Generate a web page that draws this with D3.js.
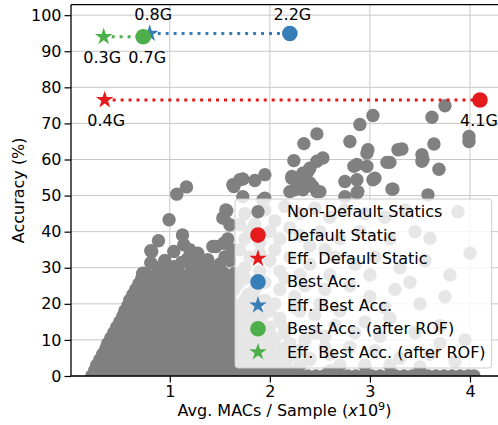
<!DOCTYPE html>
<html><head><meta charset="utf-8">
<script src="https://cdn.jsdelivr.net/npm/d3@7"></script>
<style>body{margin:0;background:#fff}svg{display:block;font-family:"DejaVu Sans",sans-serif}</style>
</head><body><svg id="c" width="498" height="425"></svg>
<script>
// ---------- data ----------
const xTicks = [1, 2, 3, 4];
const yTicks = [0, 10, 20, 30, 40, 50, 60, 70, 80, 90, 100];
// Non-default statics: [MACs (x1e9), accuracy %]
const bottomBand = [
 [0.22,0],[0.3,0],[0.38,0],[0.46,0],[0.54,0],[0.62,0],[0.7,0],[0.78,0],[0.86,0],[0.94,0],[1.02,0],[1.1,0],[1.18,0],[1.26,0],[1.34,0],[1.42,0],[1.5,0],[1.58,0],[1.66,0],[1.74,0],[1.82,0],[1.9,0],[1.98,0],[2.06,0],[2.14,0],[2.22,0],[2.3,0],[2.38,0],[2.46,0],[2.54,0],[2.62,0],[2.7,0],[2.78,0],[2.86,0],[2.94,0],[3.02,0],[3.1,0],[3.18,0],[3.26,0],[3.34,0],[3.42,0],[3.5,0],[3.58,0],[3.66,0],[3.74,0],[3.82,0],[3.9,0],[3.98,0],[4.04,0]
];
const denseBlob = [
 [0.25,1.5],[0.33,1.5],[0.42,1.5],[0.53,1.5],[0.64,1.5],[0.75,1.5],[0.86,1.5],[0.97,1.5],[1.08,1.5],[1.19,1.5],[1.3,1.5],[1.41,1.5],[1.52,1.5],[1.63,1.5],[1.74,1.5],[1.87,1.5],[2.02,1.5],[2.2,1.5],
 [0.27,3],[0.37,3],[0.48,3],[0.58,3],[0.69,3],[0.8,3],[0.91,3],[1.02,3],[1.13,3],[1.24,3],[1.35,3],[1.46,3],[1.57,3],[1.68,3],[1.8,3],[1.95,3],[2.1,3],[2.3,3],
 [0.3,4.5],[0.4,4.5],[0.51,4.5],[0.62,4.5],[0.73,4.5],[0.84,4.5],[0.95,4.5],[1.06,4.5],[1.17,4.5],[1.28,4.5],[1.39,4.5],[1.5,4.5],[1.61,4.5],[1.72,4.5],[1.85,4.5],[2.0,4.5],[2.17,4.5],[2.4,4.5],
 [0.33,6],[0.43,6],[0.53,6],[0.64,6],[0.75,6],[0.86,6],[0.97,6],[1.08,6],[1.19,6],[1.3,6],[1.41,6],[1.52,6],[1.63,6],[1.75,6],[1.9,6],[2.05,6],[2.25,6],[2.6,6],
 [0.36,7.5],[0.46,7.5],[0.57,7.5],[0.68,7.5],[0.79,7.5],[0.9,7.5],[1.01,7.5],[1.12,7.5],[1.23,7.5],[1.34,7.5],[1.45,7.5],[1.56,7.5],[1.67,7.5],[1.8,7.5],[1.95,7.5],[2.12,7.5],
 [0.38,9],[0.48,9],[0.59,9],[0.7,9],[0.81,9],[0.92,9],[1.03,9],[1.14,9],[1.25,9],[1.36,9],[1.47,9],[1.58,9],[1.7,9],[1.85,9],[2.0,9],[2.2,9],
 [0.41,10.5],[0.51,10.5],[0.62,10.5],[0.73,10.5],[0.84,10.5],[0.95,10.5],[1.06,10.5],[1.17,10.5],[1.28,10.5],[1.39,10.5],[1.5,10.5],[1.61,10.5],[1.73,10.5],[1.88,10.5],[2.05,10.5],
 [0.44,12],[0.54,12],[0.64,12],[0.75,12],[0.86,12],[0.97,12],[1.08,12],[1.19,12],[1.3,12],[1.41,12],[1.52,12],[1.63,12],[1.78,12],[1.95,12],[2.15,12],[2.45,12],
 [0.47,13.5],[0.57,13.5],[0.67,13.5],[0.78,13.5],[0.89,13.5],[1.0,13.5],[1.11,13.5],[1.22,13.5],[1.33,13.5],[1.44,13.5],[1.55,13.5],[1.66,13.5],[1.8,13.5],[2.0,13.5],
 [0.5,15],[0.6,15],[0.7,15],[0.81,15],[0.92,15],[1.03,15],[1.14,15],[1.25,15],[1.36,15],[1.47,15],[1.58,15],[1.7,15],[1.88,15],[2.1,15],
 [0.53,16.5],[0.63,16.5],[0.73,16.5],[0.84,16.5],[0.95,16.5],[1.06,16.5],[1.17,16.5],[1.28,16.5],[1.39,16.5],[1.5,16.5],[1.61,16.5],[1.74,16.5],[1.92,16.5],
 [0.55,18],[0.65,18],[0.76,18],[0.87,18],[0.98,18],[1.09,18],[1.2,18],[1.31,18],[1.42,18],[1.53,18],[1.64,18],[1.8,18],[2.0,18],[2.3,18],
 [0.58,19.5],[0.68,19.5],[0.79,19.5],[0.9,19.5],[1.01,19.5],[1.12,19.5],[1.23,19.5],[1.34,19.5],[1.45,19.5],[1.56,19.5],[1.68,19.5],[1.85,19.5],
 [0.6,21],[0.71,21],[0.82,21],[0.93,21],[1.04,21],[1.15,21],[1.26,21],[1.37,21],[1.48,21],[1.59,21],[1.75,21],[1.95,21],
 [0.63,22.5],[0.73,22.5],[0.84,22.5],[0.95,22.5],[1.06,22.5],[1.17,22.5],[1.28,22.5],[1.39,22.5],[1.5,22.5],[1.61,22.5],[1.78,22.5],
 [0.66,24],[0.76,24],[0.87,24],[0.98,24],[1.09,24],[1.2,24],[1.31,24],[1.42,24],[1.53,24],[1.64,24],[1.85,24],[2.1,24],
 [0.69,25.5],[0.79,25.5],[0.9,25.5],[1.01,25.5],[1.12,25.5],[1.23,25.5],[1.34,25.5],[1.45,25.5],[1.56,25.5],[1.68,25.5],
 [0.72,27],[0.82,27],[0.93,27],[1.04,27],[1.15,27],[1.26,27],[1.37,27],[1.48,27],[1.59,27],[1.72,27],
 [0.76,28.5],[0.87,28.5],[0.98,28.5],[1.09,28.5],[1.2,28.5],[1.32,28.5],[1.43,28.5],[1.54,28.5],[1.65,28.5]
];
const midPoints = [
 [0.993,43.3],[0.887,37.5],[0.81,34.7],[1.127,39.1],[1.14,36.4],[1.04,34.5],[1.18,32.6],[1.28,34],[1.38,32.2],[1.46,35.9],[1.54,36.8],[1.56,46],[1.54,43.8],[1.57,45.8],[1.53,43.8],[1.6,41.9],[0.81,31.4],[0.91,30.3],[1.04,30.3],[1.27,33.6],[0.82,34.5],[1.48,29.4],[1.37,30.3],[1.3,28.6],[1.43,35.9],[0.73,28.5],[1.58,38],[1.62,35],[1.6,32],[1.55,33],[1.5,31],[1.73,49.7],[1.95,49.3],
 [0.95,32],[1.12,31.5],[1.22,30.5],[1.33,31.5],[1.2,35],[1.35,29.5]
];
const upperPoints = [
 [3.75,74.9],[3.62,71.7],[3.03,72.2],[2.9,69.7],[2.47,67.1],[2.8,65],[2.34,64.4],[3.99,66.4],[3.99,65],[3.64,64.3],[3.32,62.9],[2.98,62.7],[2.97,61.8],[3.28,62.7],[3.52,61.3],[3.52,59.5],[3.53,60],[2.53,60.4],[2.47,59.5],[2.24,59.7],[3.17,59.2],[3.2,59.2],[2.84,58.1],[2.97,58.1],[2.87,58.6],[2.4,57.6],[3.69,57.3],[2.33,56.2],[2.22,54.8],[2.38,56.7],[1.95,55.8],[1.85,54.2],[1.73,54.6],[1.63,53],[1.64,52.5],[1.7,54.4],[2.22,55.3],[2.28,53.9],[2.4,53.5],[2.75,53.9],[2.87,54.4],[3.05,54.8],[3.03,54.4],[2.2,51.1],[2.25,51.6],[2.33,51.6],[2.43,52.5],[2.47,51.1],[2.5,51.1],[2.88,51.1],[2.87,50.7],[3.22,51.8],[3.23,51.8],[3.58,50.2],[2.75,49.7],[1.93,48.8],[1.07,50.4],[1.167,52.4],[1.64,52.7]
];
const legendArea = [
 [1.75,45],[1.85,42],[1.95,46],[2.05,43],[2.15,47],[2.3,45],[2.45,46.5],[2.6,44],[2.75,46],[2.95,45],[3.15,44],[3.35,46],[3.6,38.2],[3.88,45.5],[3.45,40],[3.2,38],[2.9,40],[2.7,38],[2.5,40],[2.3,39],[2.1,38],[1.9,37],[1.75,38],[1.8,33],[2.0,32],[2.2,33],[2.4,31],[2.65,33],[2.85,31],[3.05,33],[3.3,30],[3.55,32],[3.8,28],[4.0,34],[1.75,27],[1.95,26],[2.15,27],[2.35,25],[2.55,24],[2.8,25],[3.0,22],[3.25,24],[3.5,20],[3.75,22],[1.85,21],[2.05,20],[2.25,19],[2.45,17],[2.7,18],[2.95,15],[3.2,16],[3.45,12],[3.7,14],[3.95,10],[2.15,13],[2.35,10],[2.55,11],[2.8,8],[3.05,7],[3.3,5],[3.6,6],[3.85,4],[2.4,5],[2.7,3],[2.95,3],[2.0,9],[1.8,15],
 [1.7,42],[1.8,40],[1.7,35],[1.9,34],[1.75,30],[1.9,29],[2.05,35],[2.0,40],[2.2,41],[1.72,18],[1.9,17],[2.1,16],[2.25,22],[2.1,29],[2.3,28],[2.4,36],[2.55,35],[2.6,28],[2.5,20],[2.65,14],[2.3,7],[2.55,8],[2.6,1.5],[2.85,12],[3.1,11],[3.0,28],[3.15,19],[3.4,26],[3.7,9],[3.5,2.5],[3.2,3]
];
const highlights = [
 {name:"Default", color:"#e41a1c", full:[4.1,76.5], eff:[0.35,76.5], fullLabel:"4.1G", effLabel:"0.4G"},
 {name:"Best", color:"#377eb8", full:[2.2,94.9], eff:[0.8,94.9], fullLabel:"2.2G", effLabel:"0.8G"},
 {name:"BestROF", color:"#4daf4a", full:[0.735,94.0], eff:[0.34,94.0], fullLabel:"0.7G", effLabel:"0.3G"}
];
const legendItems = [
 {label:"Non-Default Statics", color:"#808080", shape:"circle"},
 {label:"Default Static", color:"#e41a1c", shape:"circle"},
 {label:"Eff. Default Static", color:"#e41a1c", shape:"star"},
 {label:"Best Acc.", color:"#377eb8", shape:"circle"},
 {label:"Eff. Best Acc.", color:"#377eb8", shape:"star"},
 {label:"Best Acc. (after ROF)", color:"#4daf4a", shape:"circle"},
 {label:"Eff. Best Acc. (after ROF)", color:"#4daf4a", shape:"star"}
];

// ---------- layout / style ----------
// label placement offsets in px (dx, dy) relative to marker
const labelOffsets = {
  Default:{full:[-1,26], eff:[1.5,26]},
  Best:{full:[2.5,-14], eff:[3.5,-14]},
  BestROF:{full:[4,26], eff:[-1.5,26]}
};
const L = 71, R = 500, T = 4.7, B = 376;
const svg = d3.select("#c");
const x = d3.scaleLinear().domain([0.013, 4.3]).range([L, R]);
const y = d3.scaleLinear().domain([0, 102.9]).range([B, T]);
const FS = 16;

svg.append("defs").append("clipPath").attr("id","clip")
  .append("rect").attr("x",L).attr("y",T).attr("width",R-L).attr("height",B-T);

// grid
const grid = svg.append("g").attr("stroke","#c8c8c8").attr("stroke-width",1);
grid.selectAll(".gy").data(yTicks).join("line")
  .attr("x1",L).attr("x2",R).attr("y1",d=>y(d)).attr("y2",d=>y(d));
grid.selectAll(".gx").data(xTicks).join("line")
  .attr("y1",T).attr("y2",B).attr("x1",d=>x(d)).attr("x2",d=>x(d));

// gray points
const pts = bottomBand.concat(denseBlob, midPoints, upperPoints, legendArea);
const plot = svg.append("g").attr("clip-path","url(#clip)");
plot.append("g").selectAll("circle").data(pts).join("circle")
  .attr("cx",d=>x(d[0])).attr("cy",d=>y(d[1])).attr("r",6.7).attr("fill","#808080");

const star = d3.symbol().type(d3.symbolStar).size(95);
highlights.forEach(h=>{
  const g = plot.append("g");
  g.append("line").attr("x1",x(h.eff[0])).attr("x2",x(h.full[0]))
    .attr("y1",y(h.eff[1])).attr("y2",y(h.full[1]))
    .attr("stroke",h.color).attr("stroke-width",3).attr("stroke-dasharray","3 4.95");
  g.append("circle").attr("cx",x(h.full[0])).attr("cy",y(h.full[1])).attr("r",7.8).attr("fill",h.color);
  g.append("path").attr("d",star).attr("transform",`translate(${x(h.eff[0])},${y(h.eff[1])})`).attr("fill",h.color);
});
// annotations
highlights.forEach(h=>{
  const o = labelOffsets[h.name];
  [[h.full,h.fullLabel,o.full],[h.eff,h.effLabel,o.eff]].forEach(([p,t,off])=>{
    svg.append("text").attr("x",x(p[0])+off[0]).attr("y",y(p[1])+off[1]).attr("text-anchor","middle")
      .attr("font-size",FS).attr("fill","#000").text(t);
  });
});

// axes
const ax = svg.append("g").attr("transform",`translate(0,${B})`)
  .call(d3.axisBottom(x).tickValues(xTicks).tickFormat(d3.format("d")).tickSize(6.5).tickPadding(3));
const ay = svg.append("g").attr("transform",`translate(${L},0)`)
  .call(d3.axisLeft(y).tickValues(yTicks).tickFormat(d3.format("d")).tickSize(6.5).tickPadding(3));
[ax,ay].forEach(a=>{
  a.select(".domain").remove();
  a.selectAll("text").attr("font-size",FS).attr("font-family","DejaVu Sans").attr("fill","#000");
  a.selectAll("line").attr("stroke","#000").attr("stroke-width",1.2);
});
// spines
const sp = svg.append("g").attr("stroke","#000").attr("stroke-width",1.3).attr("fill","none");
sp.append("line").attr("x1",L).attr("x2",L).attr("y1",T).attr("y2",B);
sp.append("line").attr("x1",L).attr("x2",R).attr("y1",B).attr("y2",B);
sp.append("line").attr("x1",L).attr("x2",R).attr("y1",T).attr("y2",T);

// labels
svg.append("text").attr("transform",`translate(18,${(T+B)/2}) rotate(-90)`).attr("text-anchor","middle")
  .attr("dominant-baseline","central").attr("font-size",FS).text("Accuracy (%)");
const xl = svg.append("text").attr("x",(L+R)/2 - 1).attr("y",416).attr("text-anchor","middle").attr("font-size",FS);
xl.append("tspan").text("Avg. MACs / Sample (");
xl.append("tspan").attr("font-style","italic").text("x");
xl.append("tspan").text("10");
xl.append("tspan").attr("dy",-6).attr("font-size",FS*0.7).text("9");
xl.append("tspan").attr("dy",6).text(")");

// legend
const lg = svg.append("g");
lg.append("rect").attr("x",235).attr("y",199).attr("width",256.7).attr("height",169).attr("rx",3)
  .attr("fill","rgba(255,255,255,0.8)").attr("stroke","#cccccc").attr("stroke-width",1);
legendItems.forEach((it,i)=>{
  const cy = 211.7 + i*23.4;
  if(it.shape==="circle") lg.append("circle").attr("cx",258).attr("cy",cy).attr("r",it.color==="#808080"?6.7:7.8).attr("fill",it.color);
  else lg.append("path").attr("d",star).attr("transform",`translate(258,${cy})`).attr("fill",it.color);
  lg.append("text").attr("x",287).attr("y",cy).attr("dominant-baseline","central").attr("font-size",FS).text(it.label);
});
</script></body></html>
